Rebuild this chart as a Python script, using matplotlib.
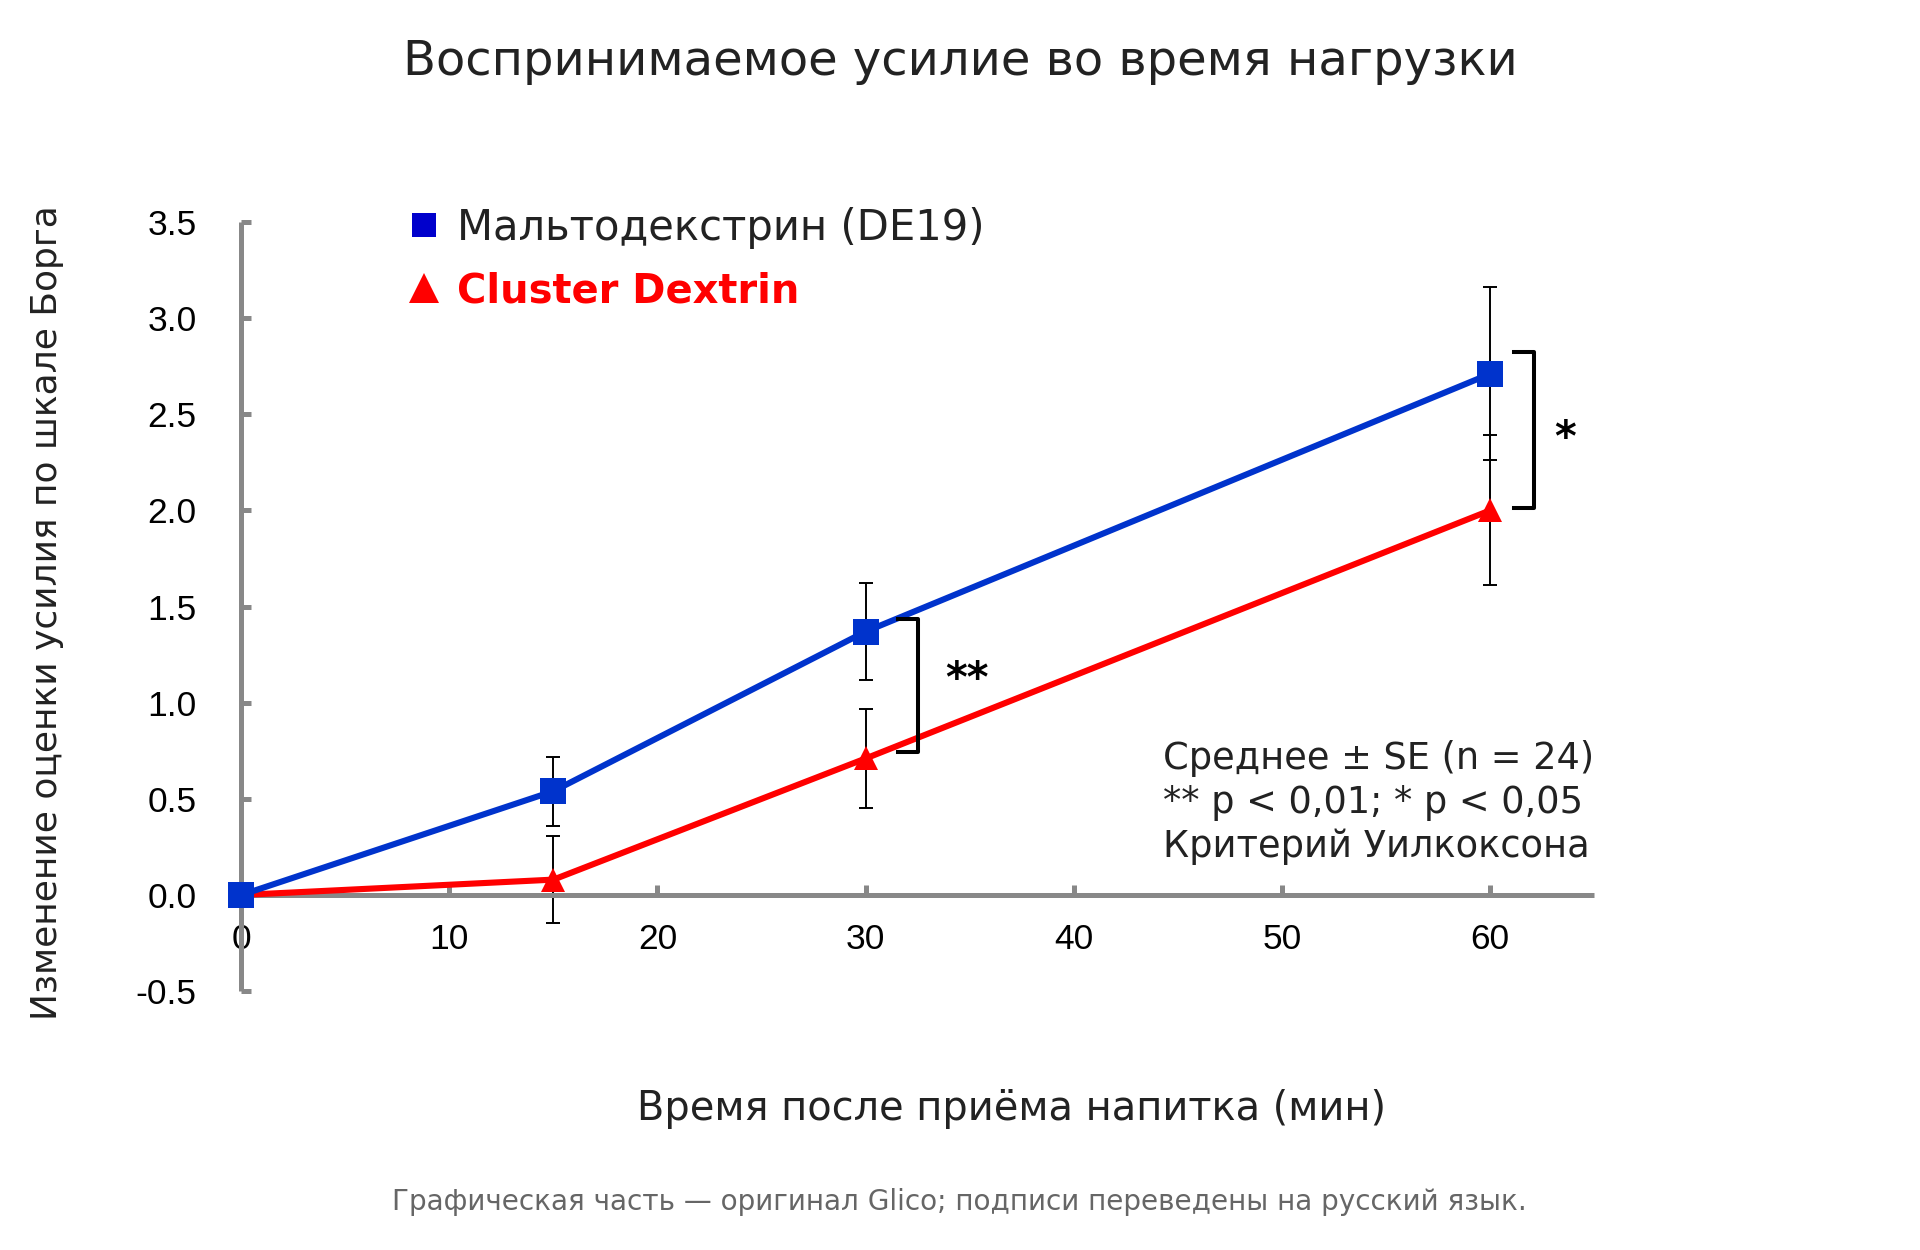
import matplotlib
matplotlib.use("Agg")
import matplotlib.pyplot as plt
from matplotlib.lines import Line2D

# ---- data ----
time_min = [0, 15, 30, 60]
malto = [0.0, 0.54, 1.37, 2.71]
malto_se = [0.0, 0.18, 0.25, 0.45]
cluster = [0.0, 0.08, 0.71, 2.00]
cluster_se = [0.0, 0.225, 0.255, 0.39]

x_ticks = [0, 10, 20, 30, 40, 50, 60]
y_ticks = [-0.5, 0.0, 0.5, 1.0, 1.5, 2.0, 2.5, 3.0, 3.5]
y_ticklabels = ["-0.5", "0.0", "0.5", "1.0", "1.5", "2.0", "2.5", "3.0", "3.5"]

# significance brackets: x position, lower end, upper end, label and its spot
sig_x = [32.5, 62.1]
sig_lo = [0.745, 2.01]
sig_hi = [1.435, 2.825]
sig_text = ["**", "*"]
sig_text_x = [34.85, 63.6]
sig_text_y = [1.12, 2.37]

series_labels = ["Мальтодекстрин (DE19)", "Cluster Dextrin"]
note_lines = ["Среднее ± SE (n = 24)", "** p < 0,01; * p < 0,05", "Критерий Уилкоксона"]

title = "Воспринимаемое усилие во время нагрузки"
ylabel = "Изменение оценки усилия по шкале Борга"
xlabel = "Время после приёма напитка (мин)"
footer = "Графическая часть — оригинал Glico; подписи переведены на русский язык."

blue = "#0033cc"
red = "#ff0000"
axis_grey = "#888888"

plt.rcParams["font.family"] = ["DejaVu Sans"]

fig = plt.figure(figsize=(19.2, 12.5), dpi=100)
ax = fig.add_axes([0.1148, 0.1917, 0.7263, 0.6461])
ax.set_xlim(-1, 66)
ax.set_ylim(-0.6, 3.6)

# axes: y axis at x=0, x axis at y=0
for side in ["top", "right"]:
    ax.spines[side].set_visible(False)
ax.spines["left"].set_position(("data", 0))
ax.spines["bottom"].set_position(("data", 0))
ax.spines["left"].set_bounds(-0.5, 3.5)
ax.spines["bottom"].set_bounds(0, 65)
for side in ["left", "bottom"]:
    ax.spines[side].set_color(axis_grey)
    ax.spines[side].set_linewidth(3.6)
    ax.spines[side].set_capstyle("butt")

ax.set_xticks(x_ticks)
ax.set_yticks(y_ticks)
ax.set_yticklabels(y_ticklabels)
for lab in ax.get_xticklabels() + ax.get_yticklabels():
    lab.set_fontfamily("Liberation Sans")
    lab.set_fontsize(25.5)
ax.tick_params(axis="both", direction="in", length=7, width=3.6, color=axis_grey)
ax.tick_params(axis="y", pad=32)
ax.tick_params(axis="x", pad=20)

# error bars (points after 0)
ax.errorbar(time_min[1:], malto[1:], yerr=malto_se[1:], fmt="none",
            ecolor="black", elinewidth=1.4, capsize=4.7, capthick=1.4, zorder=2)
ax.errorbar(time_min[1:], cluster[1:], yerr=cluster_se[1:], fmt="none",
            ecolor="black", elinewidth=1.4, capsize=4.7, capthick=1.4, zorder=2)

ax.plot(time_min, cluster, color=red, lw=4.4, marker="^", markersize=17,
        markeredgewidth=0, zorder=3, clip_on=False)
ax.plot(time_min, malto, color=blue, lw=4.4, marker="s", markersize=18.5,
        markeredgewidth=0, zorder=4, clip_on=False)

# significance brackets
for bx, lo, hi, txt, tx, ty in zip(sig_x, sig_lo, sig_hi, sig_text, sig_text_x, sig_text_y):
    ax.plot([bx - 0.95, bx, bx, bx - 0.95], [hi, hi, lo, lo], color="black",
            lw=2.9, solid_joinstyle="round", zorder=5)
    ax.text(tx, ty, txt, fontsize=30, fontweight="bold",
            ha="center", va="center", color="black")

# statistics note
for i, line in enumerate(note_lines):
    ax.text(44.3, 0.71 - i * 0.23, line, fontsize=26.5, color="#222222",
            ha="left", va="center")

# legend
handles = [
    Line2D([], [], linestyle="none", marker="s", markersize=17, color="#0000cc", markeredgewidth=0),
    Line2D([], [], linestyle="none", marker="^", markersize=21, color=red, markeredgewidth=0),
]
leg = ax.legend(handles, series_labels, loc="upper left", bbox_to_anchor=(0.2100, 0.8345),
                bbox_transform=fig.transFigure, frameon=False, fontsize=30.1,
                handlelength=1.0, handletextpad=0.28, labelspacing=0.55,
                borderpad=0, borderaxespad=0)
leg.get_texts()[0].set_color("#222222")
leg.get_texts()[1].set_color(red)
leg.get_texts()[1].set_fontweight("bold")
leg.get_texts()[1].set_fontsize(28.8)

fig.text(0.5, 0.9508, title, fontsize=34.6, ha="center", va="center", color="#222222")
fig.text(0.0245, 0.51, ylabel, fontsize=25.9, rotation=90, ha="center", va="center", color="#222222")
fig.text(0.5270, 0.1128, xlabel, fontsize=28.7, ha="center", va="center", color="#222222")
fig.text(0.4995, 0.0380, footer, fontsize=20.1, ha="center", va="center", color="#666666")

fig.savefig("out.png", dpi=100, facecolor="white")
